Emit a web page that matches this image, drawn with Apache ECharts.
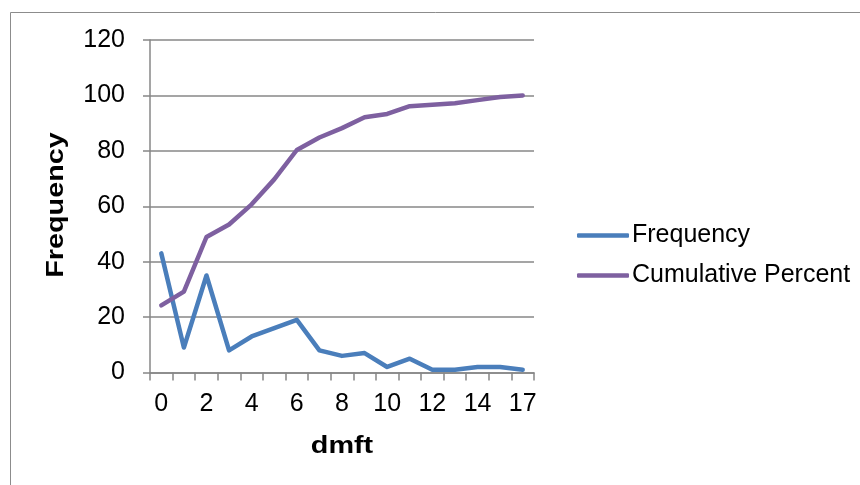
<!DOCTYPE html>
<html>
<head>
<meta charset="utf-8">
<script src="https://cdn.jsdelivr.net/npm/echarts@6/dist/echarts.min.js"></script>
<style>
  html, body { margin: 0; padding: 0; background: #fff; }
  #chart { width: 860px; height: 485px; }
</style>
</head>
<body>
<div id="chart"></div>
<script>
// dmft score categories (16 is absent)
const dmftCategories = ['0','1','2','3','4','5','6','7','8','9','10','11','12','13','14','15','17'];
// number of children at each dmft score
const frequency = [43, 9, 35, 8, 13, 16, 19, 8, 6, 7, 2, 5, 1, 1, 2, 2, 1];
// running total as a percentage
const cumulativePercent = [24.2, 29.2, 48.9, 53.4, 60.7, 69.7, 80.3, 84.8, 88.2, 92.1, 93.3, 96.1, 96.6, 97.2, 98.3, 99.4, 100];
const yTicks = { min: 0, max: 120, step: 20 };
const xTitle = 'dmft';
const yTitle = 'Frequency';

const axisGray = '#878787';
const fontFamily = '"Liberation Sans", Arial, sans-serif';
const titleStyle = { fontFamily, fontSize: 24, fontWeight: 'bold', fill: '#000' };

const chart = echarts.init(document.getElementById('chart'), null, { renderer: 'canvas' });
chart.setOption({
  animation: false,
  backgroundColor: '#ffffff',
  graphic: [
    {
      type: 'rect',
      shape: { x: 10.5, y: 12.5, width: 900, height: 500 },
      style: { fill: 'none', stroke: '#8c8c8c', lineWidth: 1 },
      silent: true
    },
    {
      // vertical axis title, widened
      type: 'text',
      x: 56, y: 205,
      rotation: Math.PI / 2,
      scaleX: 1.2,
      style: Object.assign({ text: yTitle, align: 'center', verticalAlign: 'middle' }, titleStyle),
      silent: true
    },
    {
      // horizontal axis title
      type: 'text',
      x: 342, y: 446,
      scaleX: 1.2,
      style: Object.assign({ text: xTitle, align: 'center', verticalAlign: 'middle' }, titleStyle),
      silent: true
    }
  ],
  grid: { left: 150, right: 326, top: 40, bottom: 112.5, containLabel: false },
  legend: {
    orient: 'vertical',
    left: 572,
    top: 218,
    itemWidth: 52,
    itemHeight: 4.5,
    itemGap: 15,
    icon: 'roundRect',
    textStyle: { fontFamily, fontSize: 25, color: '#000', padding: [0, 0, 0, -2] },
    data: ['Frequency', 'Cumulative Percent']
  },
  xAxis: {
    type: 'category',
    data: dmftCategories,
    boundaryGap: true,
    axisLine: { lineStyle: { color: axisGray, width: 1.5 } },
    axisTick: { show: true, interval: 0, length: 8, lineStyle: { color: axisGray, width: 1.5 } },
    axisLabel: { interval: 1, margin: 19, fontFamily, fontSize: 25, color: '#000' },
    splitLine: { show: false }
  },
  yAxis: {
    type: 'value',
    min: yTicks.min,
    max: yTicks.max,
    interval: yTicks.step,
    axisLine: { show: true, lineStyle: { color: axisGray, width: 1.5 } },
    axisTick: { show: true, length: 7, lineStyle: { color: axisGray, width: 1.5 } },
    axisLabel: { margin: 25, fontFamily, fontSize: 25, color: '#000' },
    splitLine: { show: true, lineStyle: { color: axisGray, width: 1.5 } }
  },
  series: [
    {
      name: 'Frequency',
      type: 'line',
      data: frequency,
      symbol: 'none',
      color: '#4a7ebb',
      lineStyle: { width: 4.5, color: '#4a7ebb', cap: 'round', join: 'round' }
    },
    {
      name: 'Cumulative Percent',
      type: 'line',
      data: cumulativePercent,
      symbol: 'none',
      color: '#7e60a0',
      lineStyle: { width: 4.5, color: '#7e60a0', cap: 'round', join: 'round' }
    }
  ]
});
</script>
</body>
</html>
